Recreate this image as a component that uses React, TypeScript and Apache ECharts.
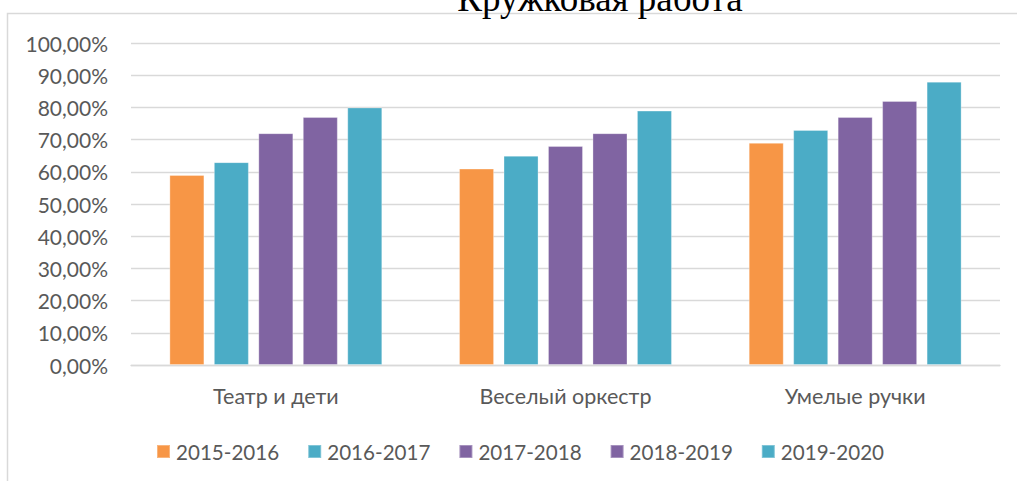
import React, { useEffect, useRef } from "react";
import * as echarts from "echarts";

const categories = ["Театр и дети", "Веселый оркестр", "Умелые ручки"];
const seriesNames = ["2015-2016", "2016-2017", "2017-2018", "2018-2019", "2019-2020"];
const seriesColors = ["#F79646", "#4BACC6", "#8064A2", "#8064A2", "#4BACC6"];
const s2015 = [0.59, 0.61, 0.69];
const s2016 = [0.63, 0.65, 0.73];
const s2017 = [0.72, 0.68, 0.77];
const s2018 = [0.77, 0.72, 0.82];
const s2019 = [0.80, 0.79, 0.88];
const seriesValues = [s2015, s2016, s2017, s2018, s2019];
const titleText = "Кружковая работа";

const FONT = "Lato, 'Open Sans', sans-serif";

export default function App() {
  const ref = useRef<HTMLDivElement>(null);
  useEffect(() => {
    document.body.style.margin = "0";
    const chart = echarts.init(ref.current!, undefined, { renderer: "svg" });
    chart.setOption({
      animation: false,
      backgroundColor: "#ffffff",
      textStyle: { fontFamily: FONT },
      graphic: [
        {
          type: "rect",
          z: 0,
          shape: { x: 7.5, y: 13.5, width: 1200, height: 700 },
          style: { fill: "none", stroke: "#d9d9d9", lineWidth: 1.5 },
          silent: true,
        },
        {
          type: "text",
          z: 10,
          x: 600,
          y: -2,
          style: {
            text: titleText,
            font: "37px 'Liberation Serif', 'Times New Roman', serif",
            fill: "#000000",
            align: "center",
            verticalAlign: "middle",
          },
          silent: true,
        },
      ],
      grid: { left: 131, right: 17, top: 43, bottom: 116, containLabel: false },
      legend: {
        left: 156,
        top: 441,
        padding: 0,
        itemWidth: 13,
        itemHeight: 13,
        itemGap: 28,
        icon: "rect",
        textStyle: { fontSize: 20.6, color: "#595959", fontFamily: FONT, padding: [0, 0, 0, 1] },
        data: seriesNames,
      },
      xAxis: {
        type: "category",
        data: categories,
        axisLine: { show: true, lineStyle: { color: "#d9d9d9", width: 1.3 } },
        axisTick: { show: false },
        axisLabel: { color: "#595959", fontSize: 21.5, margin: 20, fontFamily: FONT },
      },
      yAxis: {
        type: "value",
        min: 0,
        max: 1,
        interval: 0.1,
        axisLine: { show: false },
        axisTick: { show: false },
        splitLine: { lineStyle: { color: "#d9d9d9", width: 1.3 } },
        axisLabel: {
          color: "#595959",
          fontSize: 21,
          margin: 23,
          fontFamily: FONT,
          formatter: (v: number) => (v * 100).toFixed(2).replace(".", ",") + "%",
        },
      },
      series: seriesNames.map((name, i) => ({
        name,
        type: "bar",
        data: seriesValues[i],
        barGap: "27%",
        barCategoryGap: "26.5%",
        itemStyle: {
          color: seriesColors[i],
          borderColor: "rgba(255,255,255,0.3)",
          borderWidth: 1,
        },
      })),
    });
    return () => chart.dispose();
  }, []);
  return <div ref={ref} style={{ width: 1017, height: 481 }} />;
}
